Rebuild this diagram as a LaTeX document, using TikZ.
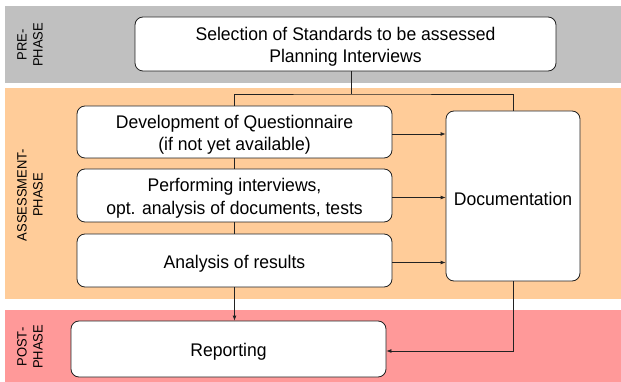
\documentclass[tikz,border=0pt]{standalone}
\usepackage{fontspec}
\setmainfont{Liberation Sans}[FakeStretch=0.96]
\usetikzlibrary{arrows.meta}
\definecolor{bandgray}{HTML}{C0C0C0}
\definecolor{bandorange}{HTML}{FFCC99}
\definecolor{bandpink}{HTML}{FF9999}
\definecolor{edgecol}{HTML}{222222}
\begin{document}
\begin{tikzpicture}[x=1pt,y=-1pt,
  box/.style={draw=edgecol, line width=0.8pt, fill=white, rounded corners=8pt, inner sep=0pt},
  boxtext/.style={align=center, font=\fontsize{18.3}{22.5}\selectfont, inner sep=0pt, yshift=-3pt},
  phaselabel/.style={rotate=90, align=center, font=\fontsize{13.5}{16}\selectfont, inner sep=0pt},
  conn/.style={draw=edgecol, line width=0.8pt},
  arr/.style={conn, -{Latex[length=5pt,width=4pt]}}]
\useasboundingbox (0,0) rectangle (621,382);
\fill[white] (0,0) rectangle (621,382);
\fill[bandgray] (5,6) rectangle (621,83);
\fill[bandorange] (5,88) rectangle (621,299);
\fill[bandpink] (5,310) rectangle (621,382);
\node[phaselabel] (lpre) at (30,45) {PRE-\\PHASE};
\node[phaselabel] (lass) at (30,195) {ASSESSMENT-\\PHASE};
\node[phaselabel] (lpost) at (30,347) {POST-\\PHASE};
\node[box, minimum width=421pt, minimum height=54pt,
  label={[boxtext]center:{Selection of Standards to be assessed\\Planning Interviews}}] (top) at (345.5,44) {};
\node[box, minimum width=315pt, minimum height=52pt,
  label={[boxtext]center:{Development of Questionnaire\\(if not yet available)}}] (dev) at (234.5,132) {};
\node[box, minimum width=315pt, minimum height=53pt,
  label={[boxtext]center:{Performing interviews,\\opt. analysis of documents, tests}}] (perf) at (234.5,195.5) {};
\node[box, minimum width=315pt, minimum height=53pt,
  label={[boxtext]center:{Analysis of results}}] (anal) at (234.5,260.5) {};
\node[box, minimum width=134pt, minimum height=170pt,
  label={[boxtext]center:{Documentation}}] (doc) at (513,196) {};
\node[box, minimum width=315pt, minimum height=56pt,
  label={[boxtext]center:{Reporting}}] (rep) at (228.5,349) {};
\coordinate (split) at (351,94);
\draw[conn] (top.south -| split) -- (split);
\draw[conn] (dev.north) |- (split) -| (doc.north);
\draw[conn] (dev.south) -- (perf.north);
\draw[conn] (perf.south) -- (anal.north);
\draw[arr] ([yshift=-2pt]dev.east) -- ([yshift=-2pt]dev.east -| doc.west);
\draw[arr] ([yshift=-2pt]perf.east) -- ([yshift=-2pt]perf.east -| doc.west);
\draw[arr] ([yshift=-2pt]anal.east) -- ([yshift=-2pt]anal.east -| doc.west);
\draw[arr] (anal.south) -- (anal.south |- rep.north);
\draw[arr] (doc.south) |- ([yshift=-2pt]rep.east);
\end{tikzpicture}
\end{document}
